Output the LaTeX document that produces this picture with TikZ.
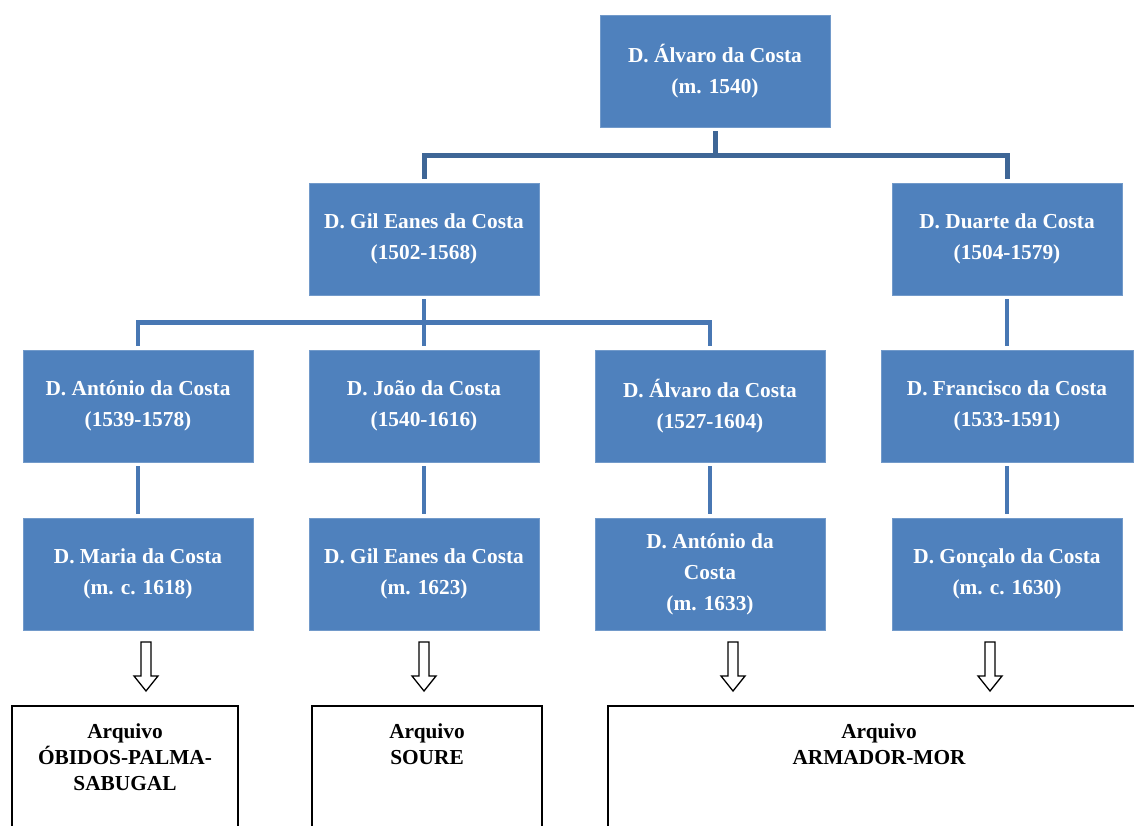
\documentclass[tikz,border=0pt]{standalone}
\usepackage{fontspec}
\setmainfont{Liberation Serif}
\definecolor{boxblue}{HTML}{4F81BD}
\definecolor{conntop}{HTML}{3E6696}
\definecolor{connlow}{HTML}{4877B3}
\begin{document}
\begin{tikzpicture}[x=0.75pt,y=-0.75pt,
  pbox/.style={fill=boxblue,draw=boxblue!80!white,line width=0.5pt,
    minimum width=230*0.75pt,minimum height=112*0.75pt,inner sep=0pt,
    text=white,align=center,font=\fontsize{16}{23.25}\selectfont\bfseries},
  conntopstyle/.style={draw=conntop,line width=5*0.75pt,shorten <=4*0.75pt,shorten >=4*0.75pt},
  connlowstyle/.style={draw=connlow,line width=4.5*0.75pt,shorten <=4*0.75pt,shorten >=4*0.75pt},
  archbox/.style={draw=black,line width=2*0.75pt},
  archtext/.style={align=center,anchor=north,inner sep=0pt,font=\fontsize{16}{19.5}\selectfont\bfseries},
  harrow/.style={draw=black,line width=1.3*0.75pt,fill=white}]
\useasboundingbox (0,0) rectangle (1134,825);
\clip (0,0) rectangle (1134,825);
\fill[white] (0,0) rectangle (1134,825);

% row 1
\node[pbox] (alvaro1) at (715,71) {D. Álvaro da Costa\\(m. 1540)};
% row 2
\node[pbox] (gil1) at (424,239) {D. Gil Eanes da Costa\\(1502-1568)};
\node[pbox] (duarte) at (1007,239) {D. Duarte da Costa\\(1504-1579)};
% row 3
\node[pbox] (antonio1) at (138,406) {D. António da Costa\\(1539-1578)};
\node[pbox] (joao) at (424,406) {D. João da Costa\\(1540-1616)};
\node[pbox] (alvaro2) at (710,406) {D. Álvaro da Costa\\(1527-1604)};
\node[pbox,minimum width=252*0.75pt] (francisco) at (1007,406) {D. Francisco da Costa\\(1533-1591)};
% row 4
\node[pbox] (maria) at (138,574) {D. Maria da Costa\\(m. c. 1618)};
\node[pbox] (gil2) at (424,574) {D. Gil Eanes da Costa\\(m. 1623)};
\node[pbox] (antonio2) at (710,574) {D. António da\\Costa\\(m. 1633)};
\node[pbox] (goncalo) at (1007,574) {D. Gonçalo da Costa\\(m. c. 1630)};

% connectors
\draw[conntopstyle] (alvaro1.south) -- ++(0,28) -| (gil1.north);
\draw[conntopstyle] (alvaro1.south) -- ++(0,28) -| (duarte.north);
\draw[connlowstyle] (gil1.south) -- ++(0,27) -| (antonio1.north);
\draw[connlowstyle] (gil1.south) -- (joao.north);
\draw[connlowstyle] (gil1.south) -- ++(0,27) -| (alvaro2.north);
\draw[connlowstyle] (duarte.south) -- (francisco.north);
\draw[connlowstyle] (antonio1.south) -- (maria.north);
\draw[connlowstyle] (joao.south) -- (gil2.north);
\draw[connlowstyle] (alvaro2.south) -- (antonio2.north);
\draw[connlowstyle] (francisco.south) -- (goncalo.north);

% hollow arrows
\foreach \ax in {146,424,733,990}{
  \draw[harrow] (\ax-5,642) -- (\ax+5,642) -- (\ax+5,676) -- (\ax+12,676)
    -- (\ax,691) -- (\ax-12,676) -- (\ax-5,676) -- cycle;
}

% archive boxes
\draw[archbox] (12,706) rectangle (238,850);
\draw[archbox] (312,706) rectangle (542,850);
\draw[archbox] (608,706) rectangle (1160,850);
\node[archtext] (arq1) at (125,723) {Arquivo\\ÓBIDOS-PALMA-\\SABUGAL};
\node[archtext] (arq2) at (427,723) {Arquivo\\SOURE};
\node[archtext] (arq3) at (879,723) {Arquivo\\ARMADOR-MOR};
\end{tikzpicture}
\end{document}
